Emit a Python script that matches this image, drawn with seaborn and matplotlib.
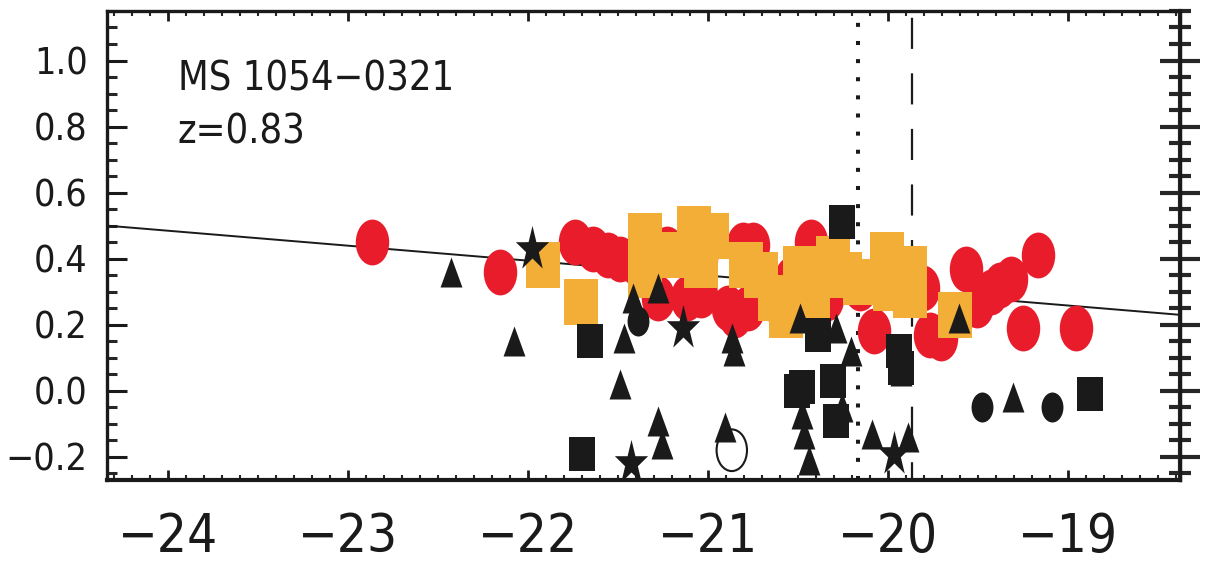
import numpy as np
import matplotlib
matplotlib.use("Agg")
import matplotlib.pyplot as plt
from matplotlib.path import Path
from matplotlib.ticker import MultipleLocator
import seaborn as sns

# ---- data ----
red_x = [-22.87, -22.16, -21.74, -21.64, -21.56, -21.49, -21.41, -21.28, -21.12, -21.23,
         -21.04, -20.89, -20.81, -20.75, -20.78, -20.43, -20.34, -20.08, -19.81, -19.77,
         -19.57, -19.51, -19.43, -19.38, -19.32, -19.17, -19.25, -18.96, -19.71, -21.04,
         -20.54, -20.16, -20.66, -20.85]
red_y = [0.45, 0.36, 0.45, 0.43, 0.41, 0.40, 0.39, 0.28, 0.28, 0.43,
         0.29, 0.25, 0.44, 0.44, 0.25, 0.45, 0.28, 0.18, 0.31, 0.17,
         0.37, 0.26, 0.30, 0.32, 0.34, 0.41, 0.19, 0.19, 0.16, 0.40,
         0.34, 0.31, 0.28, 0.23]

orange_x = [-21.92, -21.71, -21.35, -21.35, -21.08, -20.98, -21.19, -21.04, -20.79, -20.71,
            -20.63, -20.57, -20.49, -20.42, -20.31, -20.24, -20.16, -20.01, -19.99, -19.88,
            -19.88, -19.63]
orange_y = [0.38, 0.27, 0.47, 0.35, 0.49, 0.47, 0.41, 0.38, 0.38, 0.35,
            0.28, 0.23, 0.37, 0.28, 0.40, 0.35, 0.33, 0.41, 0.31, 0.37,
            0.29, 0.23]

tri_x = [-22.43, -22.08, -21.42, -21.28, -21.47, -21.49, -21.28, -21.26, -20.91, -20.87,
         -20.86, -20.49, -20.29, -20.21, -20.26, -20.48, -20.47, -20.44, -20.09, -19.89,
         -19.93, -19.61, -19.31]
tri_y = [0.36, 0.15, 0.28, 0.31, 0.16, 0.02, -0.09, -0.16, -0.11, 0.16,
         0.12, 0.22, 0.19, 0.12, -0.05, -0.07, -0.13, -0.21, -0.13, -0.14,
         0.06, 0.22, -0.02]

sq_x = [-21.66, -21.70, -20.51, -20.26, -20.39, -20.48, -20.31, -20.29, -19.94, -19.93, -18.88]
sq_y = [0.15, -0.19, 0.00, 0.51, 0.17, 0.01, 0.03, -0.09, 0.12, 0.07, -0.01]

dot_x = [-21.39, -19.48, -19.09]
dot_y = [0.21, -0.05, -0.05]

star_x = [-21.98, -21.14, -21.43, -19.97]
star_y = [0.43, 0.19, -0.22, -0.19]

open_x = [-20.87]
open_y = [-0.18]

fit_x = [-24.34, -18.38]
fit_y = [0.50, 0.23]

vline_dotted = -20.17
vline_dashed = -19.87

label_1 = "MS 1054\u22120321"
label_2 = "z=0.83"

# ---- marker shapes (the original symbols are taller than wide) ----
R = 0.73
circ = Path.unit_circle()
ellipse = Path(circ.vertices * [R, 1.0], circ.codes)
rect = Path([(-0.76, -1), (0.76, -1), (0.76, 1), (-0.76, 1), (-0.76, -1)],
            [Path.MOVETO, Path.LINETO, Path.LINETO, Path.LINETO, Path.CLOSEPOLY])
tri = Path([(0, 1), (-R, -1), (R, -1), (0, 1)],
           [Path.MOVETO, Path.LINETO, Path.LINETO, Path.CLOSEPOLY])
st = Path.unit_regular_star(5, 0.381966)
star = Path(st.vertices * [0.74, 1.0], st.codes)

RED = "#e81c2a"
ORANGE = "#f3ae38"
BLACK = "#1a1a1a"

sns.set_style("white")
plt.rcParams['font.family'] = ['DejaVu Sans', 'Liberation Sans']
plt.rcParams['font.stretch'] = 'condensed'
plt.rcParams['axes.unicode_minus'] = True

fig = plt.figure(figsize=(12.07, 5.66), dpi=100)
ax = fig.add_axes([0.0887, 0.152, 0.889, 0.8286])

sns.lineplot(x=fit_x, y=fit_y, ax=ax, color=BLACK, linewidth=1.4, zorder=1)
ax.axvline(vline_dotted, color=BLACK, linewidth=2.9, linestyle=(0, (1, 3.5)), zorder=1)
ax.axvline(vline_dashed, color=BLACK, linewidth=1.6, linestyle=(6, (14, 11)), zorder=1)

sns.scatterplot(x=red_x, y=red_y, ax=ax, marker=ellipse, s=33**2, color=RED,
                linewidth=0, zorder=2)
sns.scatterplot(x=orange_x, y=orange_y, ax=ax, marker=rect, s=33**2, color=ORANGE,
                linewidth=0, zorder=3)
sns.scatterplot(x=tri_x, y=tri_y, ax=ax, marker=tri, s=21.6**2, color=BLACK,
                linewidth=0, zorder=4)
sns.scatterplot(x=sq_x, y=sq_y, ax=ax, marker=rect, s=24**2, color=BLACK,
                linewidth=0, zorder=4)
sns.scatterplot(x=dot_x, y=dot_y, ax=ax, marker=ellipse, s=21.6**2, color=BLACK,
                linewidth=0, zorder=4)
sns.scatterplot(x=star_x, y=star_y, ax=ax, marker=star, s=34**2, color=BLACK,
                linewidth=0, zorder=4)
ax.scatter(open_x, open_y, marker=ellipse, s=30**2, facecolors='none',
           edgecolors=BLACK, linewidths=1.5, zorder=4)

ax.set_xlim(-24.34, -18.38)
ax.set_ylim(-0.27, 1.15)

ax.xaxis.set_major_locator(MultipleLocator(1))
ax.xaxis.set_minor_locator(MultipleLocator(0.1))
ax.yaxis.set_major_locator(MultipleLocator(0.2))
ax.yaxis.set_minor_locator(MultipleLocator(0.05))
ax.yaxis.set_major_formatter(plt.FuncFormatter(lambda v, p: f"{v:.1f}".replace("-", "\u2212")))

ax.tick_params(axis='x', which='major', direction='in', length=7, width=2,
               top=True, bottom=True, labelsize=38, pad=22, colors=BLACK)
ax.tick_params(axis='x', which='minor', direction='in', length=3.6, width=1.5,
               top=True, bottom=True)
ax.tick_params(axis='y', which='major', direction='in', length=14.4, width=2.2,
               left=True, right=False, labelsize=27, pad=14, colors=BLACK)
ax.tick_params(axis='y', which='minor', direction='in', length=7.2, width=2.2,
               left=True, right=False)

# right side ticks are heavier and cross the frame
sec = ax.secondary_yaxis('right')
sec.yaxis.set_major_locator(MultipleLocator(0.2))
sec.yaxis.set_minor_locator(MultipleLocator(0.05))
sec.tick_params(which='major', direction='inout', length=29, width=3, labelright=False)
sec.tick_params(which='minor', direction='inout', length=16, width=3, labelright=False)
sec.spines['right'].set_linewidth(3)

for side in ['left', 'top', 'right']:
    ax.spines[side].set_linewidth(2.4)
    ax.spines[side].set_color(BLACK)
ax.spines['bottom'].set_linewidth(3)
ax.spines['bottom'].set_color(BLACK)

ax.text(0.066, 0.853, label_1, transform=ax.transAxes, fontsize=28.5,
        va='center', ha='left', color=BLACK)
ax.text(0.066, 0.740, label_2, transform=ax.transAxes, fontsize=28.5,
        va='center', ha='left', color=BLACK)

fig.savefig("out.png", dpi=100)
